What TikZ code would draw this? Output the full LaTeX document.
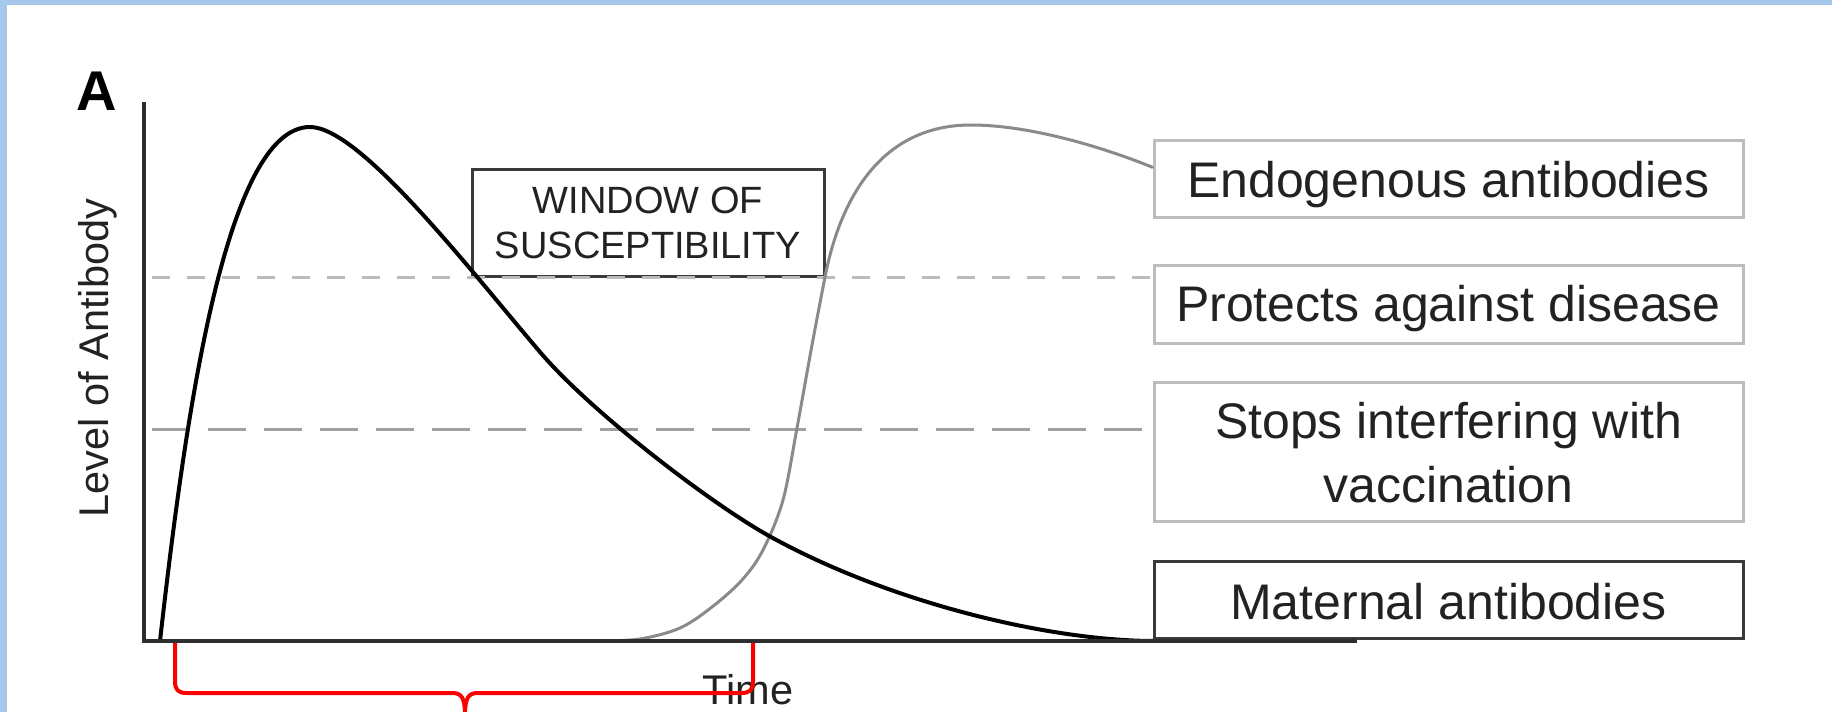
\documentclass[tikz,border=0pt]{standalone}
\usepackage{fontspec}
\setmainfont{Liberation Sans}
\usetikzlibrary{calc}
\definecolor{frameblue}{HTML}{A6C8EA}
\definecolor{axisgray}{HTML}{2E2E2E}
\definecolor{txtgray}{HTML}{222222}
\definecolor{lightbox}{HTML}{BDBDBD}
\definecolor{darkbox}{HTML}{3A3A3A}
\definecolor{endocurve}{HTML}{8A8A8A}
\definecolor{dashlight}{HTML}{BBBBBB}
\definecolor{dashdark}{HTML}{A0A0A0}
\begin{document}
\begin{tikzpicture}[x=1pt,y=-1pt,
  lbl/.style={anchor=base, inner sep=0, text=txtgray, font=\fontsize{50}{60}\selectfont},
  winlbl/.style={anchor=base, inner sep=0, text=txtgray, font=\fontsize{38}{45}\selectfont},
  axlbl/.style={anchor=base, inner sep=0, text=txtgray, font=\fontsize{41.5}{50}\selectfont},
  sidebox/.style={draw=#1, line width=3pt, rectangle, inner sep=0, minimum width=589pt},
  matcurve/.style={line width=4pt, black, line cap=round},
  endcurve/.style={line width=3pt, endocurve, line cap=round},
  upperdash/.style={line width=3pt, dashlight, dash pattern=on 18pt off 17pt},
  lowerdash/.style={line width=3pt, dashdark, dash pattern=on 38pt off 18pt},
  bracket/.style={line width=4pt, red, line join=round}]
\useasboundingbox (0,0) rectangle (1832,712);
\fill[white] (0,0) rectangle (1832,712);
% frame strips
\fill[frameblue] (0,0) rectangle (7,712);
\fill[frameblue] (0,0) rectangle (1832,5);

% side boxes
\node[sidebox=lightbox, minimum height=77pt] (endo) at (1448.5,178.5) {};
\node[sidebox=lightbox, minimum height=78pt] (prot) at (1448.5,304) {};
\node[sidebox=lightbox, minimum height=139pt] (stops) at (1448.5,451.5) {};
\node[sidebox=darkbox, minimum height=77pt] (mat) at (1448.5,600) {};
% window box
\node[draw=darkbox, line width=3pt, rectangle, inner sep=0, minimum width=352pt, minimum height=107pt] (win) at (648,222.5) {};

% dashed thresholds
\draw[upperdash] (152,277) -- (prot.west |- 0,277);
\draw[lowerdash] (152,429) -- (stops.west |- 0,429);

% endogenous curve
\draw[endcurve] plot[smooth, tension=0.55] coordinates {(600,641) (640,639) (680,628) (712,607) (742,580) (763,550) (783,500) (797,428) (812,345) (825,277)}
  .. controls (840,200) and (880,125) .. (971,125)
  .. controls (1030,125) and (1104,147.5) .. ($(endo.north west)!0.36!(endo.south west)$);

% maternal curve
\draw[matcurve] (160,641) .. controls (185,420) and (225,127) .. (310,127)
  .. controls (360,127) and (470,270) .. (540,352)
  .. controls (590,411) and (711,504) .. (771,537)
  .. controls (891,603) and (1050,641) .. (1155,641);

% axes
\draw[axisgray, line width=4.5pt, line join=miter] (144,102) -- (144,641) -- (1357,641);

% texts
\node[anchor=base, inner sep=0, font=\bfseries\fontsize{56}{60}\selectfont] (lblA) at (97,110) {A};
\node[axlbl, rotate=90] (ylab) at (108,358) {Level of Antibody};
\node[axlbl] (xlab) at (748,704) {Time};
\node[winlbl] (w1) at (648,213) {WINDOW OF};
\node[winlbl] (w2) at (648,258) {SUSCEPTIBILITY};
\node[lbl] (t1) at (1448.5,197) {Endogenous antibodies};
\node[lbl] (t2) at (1448.5,321) {Protects against disease};
\node[lbl] (t3a) at (1448.5,438) {Stops interfering with};
\node[lbl] (t3b) at (1448.5,502) {vaccination};
\node[lbl] (t4) at (1448.5,619) {Maternal antibodies};

% red bracket
\draw[bracket] (175,643) -- (175,681) .. controls (175,690) and (178,693) .. (187,693) -- (452,693) .. controls (462,693) and (465,698) .. (465,716);
\draw[bracket] (753,643) -- (753,681) .. controls (753,690) and (750,693) .. (741,693) -- (478,693) .. controls (468,693) and (465,698) .. (465,716);
\end{tikzpicture}
\end{document}
